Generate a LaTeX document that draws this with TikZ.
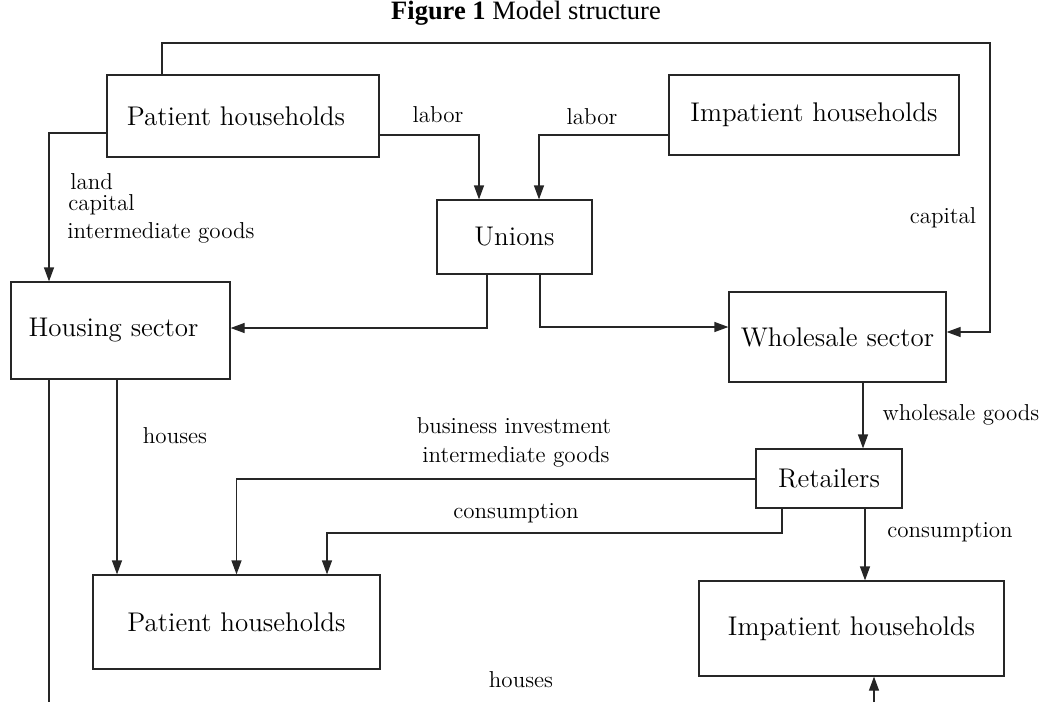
\documentclass[tikz,border=0pt]{standalone}
\usepackage{fontspec}
\newfontfamily\titlefont{Liberation Serif}
\usepackage{tikz}
\usetikzlibrary{arrows.meta, positioning, calc}
\tikzset{
  basebox/.style={rectangle,draw=black!85,line width=0.6pt,inner sep=0pt,align=center,font=\fontsize{13.5}{16}\selectfont},
  flowlabel/.style={inner sep=0pt,font=\fontsize{11.5}{13.5}\selectfont},
  arr/.style={->,>={Triangle[length=7pt,width=5pt]},line width=0.6pt,color=black!85},
  plainline/.style={line width=0.6pt,color=black!85}
}

\begin{document}
\begin{tikzpicture}[x=0.5pt,y=-0.5pt]
  \useasboundingbox (0,0) rectangle (1044,702);
  \node[font=\titlefont\fontsize{13.25}{15}\selectfont] (title) at (526,13) {\textbf{Figure 1} Model structure};
  \node[basebox,minimum width=136pt,minimum height=41pt] (ph1) at (243,116) {Patient households\hspace*{7pt}};
  \node[basebox,minimum width=145pt,minimum height=40pt] (ih1) at (814,115) {Impatient households};
  \node[basebox,minimum width=77.5pt,minimum height=37pt] (unions) at (514.5,237) {Unions};
  \node[basebox,minimum width=109.5pt,minimum height=48.5pt] (housing) at (120.5,330.5) {Housing sector\hspace*{7pt}};
  \node[basebox,minimum width=108.5pt,minimum height=45pt] (whole) at (837.5,337) {Wholesale sector};
  \node[basebox,minimum width=73pt,minimum height=29.5pt] (retail) at (829,478.5) {Retailers};
  \node[basebox,minimum width=143.5pt,minimum height=47pt] (ph2) at (236.5,622) {Patient households};
  \node[basebox,minimum width=152.5pt,minimum height=47.5pt] (ih2) at (851.5,628.5) {Impatient households};
  \coordinate (topbend) at (990,43);
  \coordinate (consbend) at (327,533);
  \coordinate (botleft) at (49,702);
  \coordinate (botright) at (874,702);
  \draw[arr] ($(ph1.north)+(-81,0)$) |- (topbend) |- ($(whole.east)+(0,-5)$);
  \draw[arr] ($(ph1.west)+(0,17)$) -| ($(housing.north)+(-71.5,0)$);
  \draw[arr] ($(ph1.east)+(0,19)$) -| ($(unions.north)+(-35.5,0)$);
  \draw[arr] ($(ih1.west)+(0,20)$) -| ($(unions.north)+(24.5,0)$);
  \draw[arr] ($(unions.south)+(-27.5,0)$) |- ($(housing.east)+(0,-2.5)$);
  \draw[arr] ($(unions.south)+(25.5,0)$) |- ($(whole.west)+(0,-10)$);
  \draw[plainline] ($(housing.south)+(-71.5,0)$) -- (botleft);
  \draw[arr] ($(housing.south)+(-3.5,0)$) -- ($(ph2.north)+(-119.5,0)$);
  \draw[arr] ($(whole.south)+(25.5,0)$) -- ($(retail.north)+(34,0)$);
  \draw[arr] ($(retail.west)+(0,0.5)$) -| (ph2.north);
  \draw[arr] ($(retail.south)+(-47,0)$) |- (consbend) -- (consbend |- ph2.north);
  \draw[arr] ($(retail.south)+(36,0)$) -- ($(ih2.north)+(13.5,0)$);
  \draw[arr] (botright) -- ($(ih2.south)+(22.5,0)$);
  \node[flowlabel] (lab1) at (438,115) {labor};
  \node[flowlabel] (lab2) at (592,117) {labor};
  \node[flowlabel,anchor=west] (land) at (70,182) {land};
  \node[flowlabel,anchor=west] (capl) at (68,205) {capital};
  \node[flowlabel,anchor=west] (intl) at (67,233) {intermediate goods};
  \node[flowlabel] (capr) at (943,218) {capital};
  \node[flowlabel] (hous1) at (175,436) {houses};
  \node[flowlabel] (wgoods) at (961,415) {wholesale goods};
  \node[flowlabel] (businv) at (514,426) {business investment};
  \node[flowlabel] (intm) at (516,457) {intermediate goods};
  \node[flowlabel] (cons1) at (516,513) {consumption};
  \node[flowlabel] (cons2) at (950,532) {consumption};
  \node[flowlabel] (hous2) at (521,680) {houses};
\end{tikzpicture}
\end{document}
